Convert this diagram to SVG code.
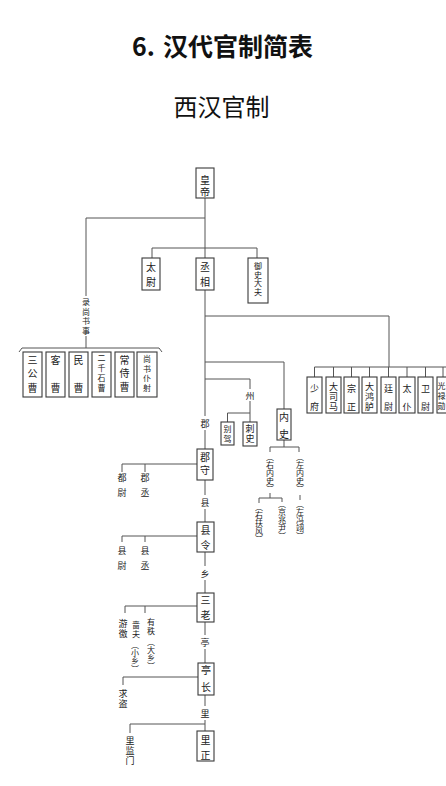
<svg xmlns="http://www.w3.org/2000/svg" width="446" height="786" viewBox="0 0 446 786">
<style>
.bg{fill:#fff}
.box{fill:#fff;stroke:#3a3a3a;stroke-width:1.1}
.ln{fill:none;stroke:#555;stroke-width:1}
.c{font-family:"Noto Sans CJK SC","Noto Sans CJK JP",sans-serif;font-size:10px;fill:#222;text-anchor:middle}
.s{font-size:9px}
.xs{font-size:8px}
.v{font-family:"Noto Sans CJK SC","Noto Sans CJK JP",sans-serif;font-size:8px;fill:#222;writing-mode:vertical-rl}
.title{font-family:"Noto Sans CJK SC","Noto Sans CJK JP",sans-serif;fill:#111}
</style>
<rect class="bg" x="0" y="0" width="446" height="786"/>
<g id="title">
<text class="title" font-size="25" font-weight="bold" y="56"><tspan x="132">6.</tspan><tspan x="163">汉代官制简表</tspan></text>
<text class="title" font-size="24" x="221.5" y="116" text-anchor="middle">西汉官制</text>
</g>
<g id="connectors">
<path class="ln" d="M205,198 V258"/>
<path class="ln" d="M205,218 H86 V296"/>
<path class="ln" d="M86,336 V348"/>
<path class="ln" d="M19,352 L22,348 H159 L162,352"/>
<path class="ln" d="M152,258 V248 H257 V258"/>
<path class="ln" d="M205,290 V416"/>
<path class="ln" d="M205,316 H389 V367"/>
<path class="ln" d="M314.5,377 V367 H446 M333.5,367 V377 M351.5,367 V377 M369.5,367 V377 M388.5,367 V377 M407,367 V377 M425.5,367 V377 M443,367 V377"/>
<path class="ln" d="M205,362 H284 V409"/>
<path class="ln" d="M205,379 H250 V389"/>
<path class="ln" d="M250,401 V422 M250,413 H227.5 V422"/>
<path class="ln" d="M284,440 V447 M270,452 V447 H299 V452"/>
<path class="ln" d="M300,495 V500"/>
<path class="ln" d="M270,493 V498 M259,503 V498 H282 V502"/>
<path class="ln" d="M205,430 V449"/>
<path class="ln" d="M197,464 H122 V472 M145,464 V472"/>
<path class="ln" d="M205,480 V495 M205,509 V522"/>
<path class="ln" d="M197,536 H122 V542 M145,536 V542"/>
<path class="ln" d="M205,552 V566 M205,580 V593"/>
<path class="ln" d="M197,606 H125 V613 M145,606 V613"/>
<path class="ln" d="M205,622 V635 M205,649 V663"/>
<path class="ln" d="M198,677 H123 V685"/>
<path class="ln" d="M205,695 V706 M205,720 V731"/>
<path class="ln" d="M205,724 H130 V733"/>
</g>
<g id="huangdi"><rect class="box" x="196" y="168" width="18" height="30"/><text class="c"><tspan x="205" y="184">皇</tspan><tspan x="205" y="196">帝</tspan></text></g>
<g id="taiwei"><rect class="box" x="142" y="258" width="18" height="32"/><text class="c"><tspan x="151" y="271">太</tspan><tspan x="151" y="286">尉</tspan></text></g>
<g id="chengxiang"><rect class="box" x="196" y="258" width="18" height="32"/><text class="c"><tspan x="205" y="271">丞</tspan><tspan x="205" y="286">相</tspan></text></g>
<g id="yushidafu"><rect class="box" x="248" y="258" width="20" height="45"/><text class="c xs"><tspan x="258" y="269">御</tspan><tspan x="258" y="277.5">史</tspan><tspan x="258" y="286">大</tspan><tspan x="258" y="294.5">夫</tspan></text></g>
<g id="lushangshushi"><text class="c xs"><tspan x="86" y="305">录</tspan><tspan x="86" y="315">尚</tspan><tspan x="86" y="324">书</tspan><tspan x="86" y="334">事</tspan></text></g>
<g id="sangongcao"><rect class="box" x="23" y="352" width="19" height="45"/><text class="c"><tspan x="32.5" y="364">三</tspan><tspan x="32.5" y="377">公</tspan><tspan x="32.5" y="392">曹</tspan></text></g>
<g id="kecao"><rect class="box" x="46" y="352" width="19" height="45"/><text class="c"><tspan x="55.5" y="364">客</tspan><tspan x="55.5" y="392">曹</tspan></text></g>
<g id="mincao"><rect class="box" x="69" y="352" width="19" height="45"/><text class="c"><tspan x="78.5" y="364">民</tspan><tspan x="78.5" y="392">曹</tspan></text></g>
<g id="erqianshicao"><rect class="box" x="92" y="352" width="19" height="45"/><text class="c xs"><tspan x="101.5" y="361">二</tspan><tspan x="101.5" y="371">千</tspan><tspan x="101.5" y="381">石</tspan><tspan x="101.5" y="391">曹</tspan></text></g>
<g id="changshicao"><rect class="box" x="115" y="352" width="19" height="45"/><text class="c"><tspan x="124.5" y="364">常</tspan><tspan x="124.5" y="377">侍</tspan><tspan x="124.5" y="391">曹</tspan></text></g>
<g id="shangshupuye"><rect class="box" x="137" y="352" width="20" height="45"/><text class="c xs"><tspan x="147" y="362">尚</tspan><tspan x="147" y="371.5">书</tspan><tspan x="147" y="381">仆</tspan><tspan x="147" y="390.5">射</tspan></text></g>
<g id="shaofu"><rect class="box" x="307" y="377" width="15" height="36"/><text class="c s"><tspan x="314.5" y="391.5">少</tspan><tspan x="314.5" y="409.5">府</tspan></text></g>
<g id="dasima"><rect class="box" x="326" y="377" width="15" height="36"/><text class="c s"><tspan x="333.5" y="389.5">大</tspan><tspan x="333.5" y="399.5">司</tspan><tspan x="333.5" y="409.5">马</tspan></text></g>
<g id="zongzheng"><rect class="box" x="344" y="377" width="15" height="36"/><text class="c s"><tspan x="351.5" y="391.5">宗</tspan><tspan x="351.5" y="409.5">正</tspan></text></g>
<g id="dahonglu"><rect class="box" x="362" y="377" width="15" height="36"/><text class="c s"><tspan x="369.5" y="389.5">大</tspan><tspan x="369.5" y="399.5">鸿</tspan><tspan x="369.5" y="409.5">胪</tspan></text></g>
<g id="tingwei"><rect class="box" x="381" y="377" width="15" height="36"/><text class="c s"><tspan x="388.5" y="391.5">廷</tspan><tspan x="388.5" y="409.5">尉</tspan></text></g>
<g id="taipu"><rect class="box" x="399" y="377" width="16" height="36"/><text class="c s"><tspan x="407" y="391.5">太</tspan><tspan x="407" y="409.5">仆</tspan></text></g>
<g id="weiwei"><rect class="box" x="418" y="377" width="15" height="36"/><text class="c s"><tspan x="425.5" y="391.5">卫</tspan><tspan x="425.5" y="409.5">尉</tspan></text></g>
<g id="guanglu"><rect class="box" x="437" y="377" width="16" height="36"/><text class="c xs"><tspan x="441.5" y="389">光</tspan><tspan x="441.5" y="399">禄</tspan><tspan x="441.5" y="409">勋</tspan></text></g>
<g id="zhou"><text class="c s" x="250" y="398.5">州</text></g>
<g id="biejia"><rect class="box" x="221" y="422" width="13" height="23"/><text class="c xs"><tspan x="227.5" y="431.5">别</tspan><tspan x="227.5" y="441.5">驾</tspan></text></g>
<g id="cishi"><rect class="box" x="243" y="422" width="14" height="24"/><text class="c s"><tspan x="250" y="432">刺</tspan><tspan x="250" y="442">史</tspan></text></g>
<g id="neishi"><rect class="box" x="277" y="409" width="14" height="31"/><text class="c"><tspan x="284" y="421">内</tspan><tspan x="284" y="438">史</tspan></text></g>
<g id="youneishi"><text class="v" x="270" y="453">（右内史）</text></g>
<g id="zuoneishi"><text class="v" x="300" y="453">（左内史）</text></g>
<g id="zuofengyi"><text class="v" x="300" y="500">（左冯翊）</text></g>
<g id="youfufeng"><text class="v" x="259" y="503">（右扶风）</text></g>
<g id="jingzhaoyin"><text class="v" x="282" y="500">（京兆尹）</text></g>
<g id="jun"><text class="c s" x="205" y="426.5">郡</text></g>
<g id="junshou"><rect class="box" x="197" y="449" width="16" height="31"/><text class="c"><tspan x="205" y="461">郡</tspan><tspan x="205" y="474">守</tspan></text></g>
<g id="duwei"><text class="c s"><tspan x="122" y="480.5">都</tspan><tspan x="122" y="495.5">尉</tspan></text></g>
<g id="juncheng"><text class="c s"><tspan x="145" y="480.5">郡</tspan><tspan x="145" y="495.5">丞</tspan></text></g>
<g id="xian"><text class="c s" x="205" y="505.5">县</text></g>
<g id="xianling"><rect class="box" x="197" y="522" width="17" height="30"/><text class="c"><tspan x="205.5" y="534">县</tspan><tspan x="205.5" y="549">令</tspan></text></g>
<g id="xianwei"><text class="c s"><tspan x="122" y="553.5">县</tspan><tspan x="122" y="568.5">尉</tspan></text></g>
<g id="xiancheng"><text class="c s"><tspan x="145" y="553.5">县</tspan><tspan x="145" y="568.5">丞</tspan></text></g>
<g id="xiang"><text class="c s" x="205" y="576.5">乡</text></g>
<g id="sanlao"><rect class="box" x="197" y="593" width="17" height="29"/><text class="c"><tspan x="205.5" y="604">三</tspan><tspan x="205.5" y="619">老</tspan></text></g>
<g id="youjiao"><text class="c s"><tspan x="123" y="626.5">游</tspan><tspan x="123" y="636.5">徼</tspan></text></g>
<g id="youzhi"><text class="c xs"><tspan x="151" y="625">有</tspan><tspan x="151" y="634">秩</tspan></text><text class="v" font-size="7.5" x="151" y="638">（大乡）</text></g>
<g id="sefu"><text class="c xs"><tspan x="136" y="628">啬</tspan><tspan x="136" y="637">夫</tspan></text><text class="v" font-size="7.5" x="135" y="641">（小乡）</text></g>
<g id="ting"><text class="c s" x="205" y="645.5">亭</text></g>
<g id="tingzhang"><rect class="box" x="198" y="663" width="16" height="32"/><text class="c"><tspan x="206" y="674">亭</tspan><tspan x="206" y="691">长</tspan></text></g>
<g id="qiudao"><text class="c s"><tspan x="123" y="696.5">求</tspan><tspan x="123" y="706.5">盗</tspan></text></g>
<g id="li"><text class="c s" x="205" y="716.5">里</text></g>
<g id="lijianmen"><text class="c s"><tspan x="130" y="743.5">里</tspan><tspan x="130" y="753.5">监</tspan><tspan x="130" y="763.5">门</tspan></text></g>
<g id="lizheng"><rect class="box" x="197" y="731" width="17" height="30"/><text class="c"><tspan x="205.5" y="744">里</tspan><tspan x="205.5" y="759">正</tspan></text></g>
</svg>
